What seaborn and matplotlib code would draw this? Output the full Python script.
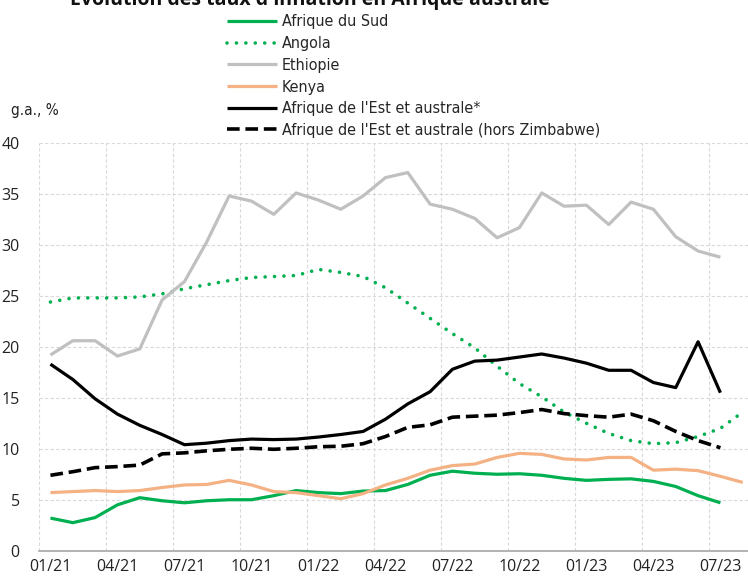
import matplotlib
matplotlib.use('Agg')
import matplotlib.pyplot as plt
from matplotlib import font_manager
import numpy as np
import pandas as pd
import seaborn as sns

months = pd.period_range('2021-01', '2023-08', freq='M')
tick_labels = ['01/21', '04/21', '07/21', '10/21', '01/22', '04/22',
               '07/22', '10/22', '01/23', '04/23', '07/23']

afrique_du_sud = [3.2, 2.75, 3.25, 4.5, 5.2, 4.9, 4.7, 4.9, 5.0, 5.0, 5.4, 5.9,
                  5.7, 5.6, 5.85, 5.9, 6.5, 7.4, 7.8, 7.6, 7.5, 7.55, 7.4, 7.1,
                  6.9, 7.0, 7.05, 6.8, 6.3, 5.4, 4.7]
angola = [24.4, 24.8, 24.8, 24.8, 24.9, 25.2, 25.7, 26.1, 26.5, 26.8, 26.9, 27.0,
          27.6, 27.3, 26.9, 25.8, 24.3, 22.8, 21.3, 19.9, 18.1, 16.4, 15.1, 13.6,
          12.5, 11.5, 10.8, 10.5, 10.6, 11.2, 12.0, 13.6]
ethiopie = [19.2, 20.6, 20.6, 19.1, 19.8, 24.6, 26.4, 30.3, 34.8, 34.3, 33.0, 35.1,
            34.4, 33.5, 34.8, 36.6, 37.1, 34.0, 33.5, 32.6, 30.7, 31.7, 35.1, 33.8,
            33.9, 32.0, 34.2, 33.5, 30.8, 29.4, 28.8]
kenya = [5.7, 5.8, 5.9, 5.8, 5.9, 6.2, 6.45, 6.5, 6.9, 6.45, 5.8, 5.7,
         5.4, 5.1, 5.6, 6.45, 7.1, 7.9, 8.35, 8.5, 9.15, 9.55, 9.45, 9.0,
         8.9, 9.15, 9.15, 7.9, 8.0, 7.85, 7.3, 6.7]
est_australe = [18.3, 16.8, 14.9, 13.4, 12.3, 11.4, 10.4, 10.55, 10.8, 10.95, 10.9, 10.95,
                11.15, 11.4, 11.7, 12.9, 14.4, 15.6, 17.8, 18.6, 18.7, 19.0, 19.3, 18.9,
                18.4, 17.7, 17.7, 16.5, 16.0, 20.5, 15.5]
est_australe_hz = [7.4, 7.75, 8.15, 8.25, 8.4, 9.5, 9.6, 9.8, 9.95, 10.05, 9.95, 10.05,
                   10.2, 10.25, 10.5, 11.2, 12.1, 12.35, 13.1, 13.2, 13.3, 13.55, 13.85, 13.45,
                   13.25, 13.1, 13.4, 12.75, 11.7, 10.8, 10.1]

series = [
    ('Afrique du Sud', afrique_du_sud, '#00b050', '-'),
    ('Angola', angola, '#00b050', (0, (0.01, 2.6))),
    ('Ethiopie', ethiopie, '#c0c0c0', '-'),
    ('Kenya', kenya, '#f4b183', '-'),
    ("Afrique de l'Est et australe*", est_australe, '#000000', '-'),
    ("Afrique de l'Est et australe (hors Zimbabwe)", est_australe_hz, '#000000', (0, (3.5, 1.6))),
]

sns.set_style('white')
plt.rcParams['font.family'] = ['Open Sans', 'DejaVu Sans']

fig = plt.figure(figsize=(7.48, 5.78), dpi=100)
ax = fig.add_axes([39.3 / 748, 1 - 550.7 / 578, (753.9 - 39.3) / 748, (550.7 - 143) / 578])

for name, values, color, ls in series:
    df = pd.DataFrame({'x': np.arange(len(values)), 'y': values})
    sns.lineplot(data=df, x='x', y='y', ax=ax, color=color, linestyle=ls,
                 linewidth=2.6 if ls != '-' else 2.3, label=name,
                 solid_capstyle='butt', dash_capstyle='round' if name == 'Angola' else 'butt')

ax.set_xlim(-0.5, len(months) - 0.5)
ax.set_ylim(0, 40)
ax.set_xticks(np.arange(0, len(months), 3))
ax.set_xticklabels(tick_labels)
ax.set_xticks(np.arange(-0.5, len(months), 3), minor=True)
ax.set_yticks(np.arange(0, 41, 5))
ax.tick_params(axis='both', which='both', length=0, labelsize=11.5, colors='#222222')
ax.tick_params(axis='x', pad=6)
ax.tick_params(axis='y', pad=14)
ax.grid(which='minor', axis='x', color='#d9d9d9', linestyle=(0, (3, 2)), linewidth=0.8)
ax.grid(which='major', axis='y', color='#d9d9d9', linestyle=(0, (3, 2)), linewidth=0.8)
ax.grid(which='major', axis='x', visible=False)
for s in ['top', 'right', 'left']:
    ax.spines[s].set_visible(False)
ax.spines['bottom'].set_color('#a6a6a6')
ax.spines['bottom'].set_linewidth(1.2)
ax.set_xlabel('')
ax.set_ylabel('')

narrow = font_manager.FontProperties(family='DejaVu Sans', stretch='condensed', size=11.5)
handles, labels = ax.get_legend_handles_labels()
ax.get_legend().remove()
fig.legend(handles, labels, loc='upper left', bbox_to_anchor=(221 / 748, 1 - 8 / 578),
           frameon=False, handlelength=3.1, handletextpad=0.3,
           labelspacing=0.42, borderaxespad=0, prop=narrow)

fig.text(11 / 748, 1 - 110 / 578, 'g.a., %', va='center', ha='left', color='#222222',
         fontproperties=font_manager.FontProperties(family='DejaVu Sans', stretch='condensed', size=11))
fig.text(70 / 748, 1 - 5 / 578, "Evolution des taux d'inflation en Afrique australe", fontsize=14,
         fontweight='bold', va='baseline', ha='left', color='#111111')

fig.savefig('out.png', dpi=100)
